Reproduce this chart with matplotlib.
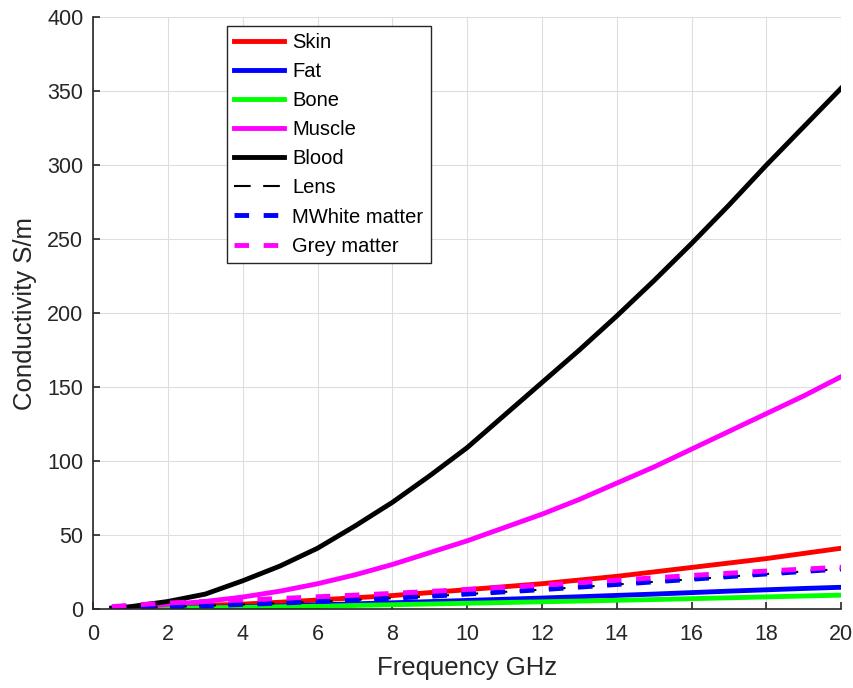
import numpy as np
from matplotlib import pyplot as plt

freq = [0.5, 1, 2, 3, 4, 5, 6, 7, 8, 9, 10, 11, 12, 13, 14, 15, 16, 17, 18, 19, 20]

skin = [0.4, 0.8, 1.5, 2.3, 3.2, 4.5, 6, 7.5, 9, 11, 13, 15, 17, 19.5, 22, 25, 28, 31, 34, 37.5, 41]
fat = [0.1, 0.2, 0.5, 0.9, 1.4, 2, 2.7, 3.4, 4.1, 4.9, 5.7, 6.5, 7.3, 8.2, 9.1, 10, 11, 12, 12.9, 13.8, 14.6]
bone = [0.1, 0.2, 0.4, 0.7, 1, 1.4, 1.8, 2.3, 2.8, 3.3, 3.8, 4.3, 4.8, 5.3, 5.8, 6.3, 6.9, 7.5, 8.1, 8.7, 9.3]
muscle = [0.5, 1, 3, 5, 8, 12, 17, 23, 30, 38, 46, 55, 64, 74, 85, 96, 108, 120, 132, 144, 157]
blood = [0.5, 1.5, 5, 10, 19, 29, 41, 56, 72, 90, 109, 131, 153, 175, 198, 222, 247, 273, 300, 326, 352]
lens = [0.3, 0.6, 1.3, 2.1, 3, 3.9, 4.9, 6, 7.2, 8.5, 10, 11.5, 13, 14.7, 16.5, 18.3, 20, 21.8, 23.6, 25.3, 27]
white = [0.3, 0.6, 1.3, 2.1, 3, 3.9, 4.9, 6, 7.2, 8.5, 10, 11.5, 13, 14.7, 16.5, 18.3, 20, 21.8, 23.6, 25.3, 27]
grey = [1.5, 2.5, 4, 5, 6, 7, 8.2, 9.3, 10.5, 11.8, 13.2, 14.6, 16, 17.7, 19.4, 21, 22.6, 24.1, 25.6, 26.9, 28.2]

plt.rcParams['font.family'] = ['Arial', 'Liberation Sans', 'DejaVu Sans']

fig, ax = plt.subplots(figsize=(8.54, 6.88), dpi=100)
fig.subplots_adjust(left=0.109, right=0.985, top=0.975, bottom=0.115)

lw = 3.5
ax.plot(freq, skin, color='#ff0000', lw=lw, label='Skin')
ax.plot(freq, fat, color='#0000ff', lw=lw, label='Fat')
ax.plot(freq, bone, color='#00ff00', lw=lw, label='Bone')
ax.plot(freq, muscle, color='#ff00ff', lw=lw, label='Muscle')
ax.plot(freq, blood, color='black', lw=lw, label='Blood')
# lens sits under the white matter curve
ax.plot(freq, lens, color='black', lw=1.5, ls=(0, (8, 6)), label='Lens')
ax.plot(freq, white, color='#0000ff', lw=lw, ls=(0, (3, 3)), label='MWhite matter')
ax.plot(freq, grey, color='#ff00ff', lw=lw, ls=(0, (3, 3)), label='Grey matter')

ax.set_xlim(0, 20)
ax.set_ylim(0, 400)
ax.set_xticks(np.arange(0, 21, 2))
ax.set_yticks(np.arange(0, 401, 50))
ax.grid(True, color='#dedede', lw=0.8)
ax.tick_params(direction='in', labelsize=15.5, length=5, width=1.2, top=False, right=False,
               colors='#262626')
ax.tick_params(axis='x', pad=11)
ax.tick_params(axis='y', pad=7)
for s in ax.spines.values():
    s.set_color('#262626')
    s.set_linewidth(1.2)
ax.spines['top'].set_visible(False)
ax.spines['right'].set_visible(False)

ax.set_xlabel('Frequency GHz', fontsize=18.5, labelpad=8, color='#262626')
ax.set_ylabel('Conductivity S/m', fontsize=18.5, labelpad=7, color='#262626')

leg = ax.legend(loc='upper left', bbox_to_anchor=(0.179, 0.985), fontsize=14.5, fancybox=False,
                framealpha=1, edgecolor='#262626', handlelength=2.5, labelspacing=0.5,
                borderpad=0.35, handletextpad=0.4, borderaxespad=0)
leg.get_frame().set_linewidth(1)

fig.savefig('out.png')
